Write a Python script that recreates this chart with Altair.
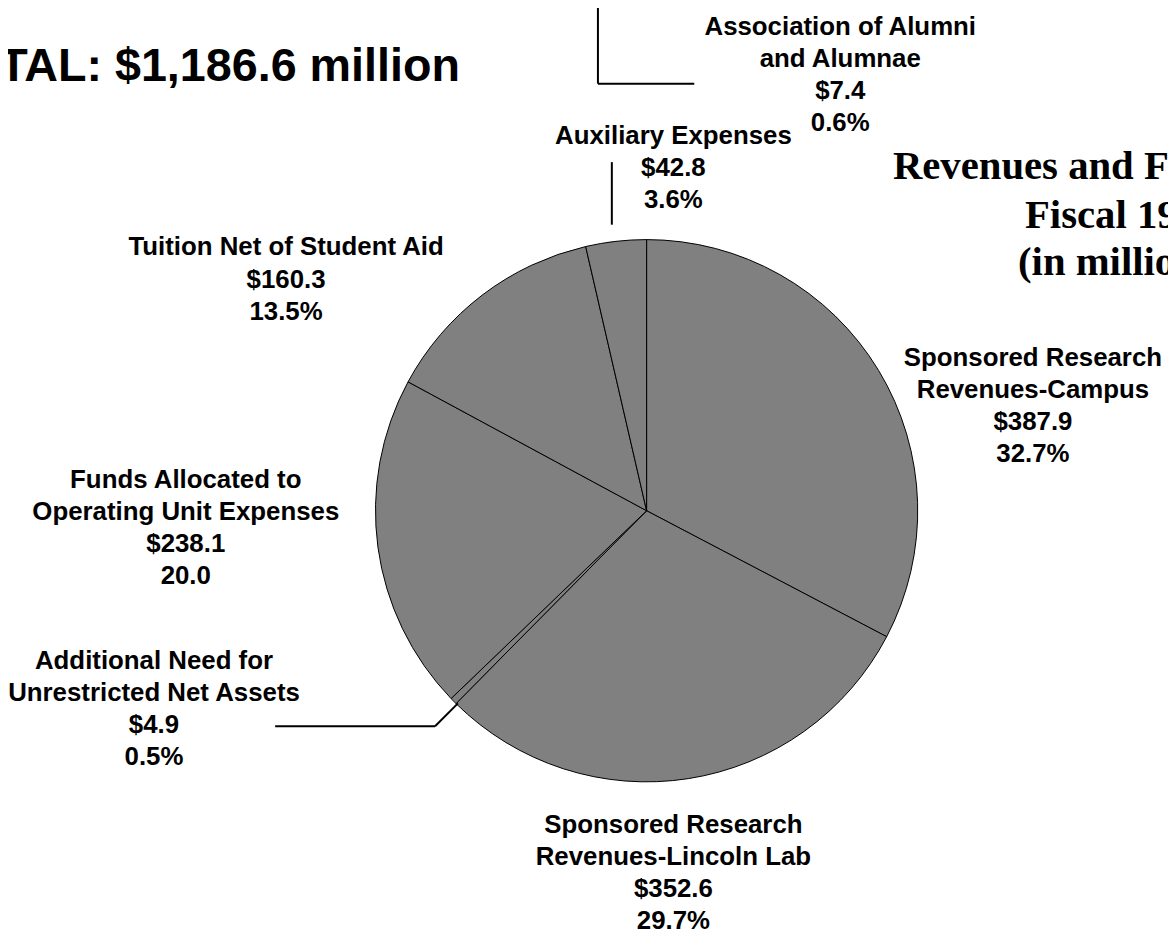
import altair as alt
import pandas as pd

# ---- data ----
categories = [
    "Sponsored Research\nRevenues-Campus",
    "Sponsored Research\nRevenues-Lincoln Lab",
    "Additional Need for\nUnrestricted Net Assets",
    "Funds Allocated to\nOperating Unit Expenses",
    "Tuition Net of Student Aid",
    "Auxiliary Expenses",
]
values = [387.9, 352.6, 4.9, 238.1, 160.3, 42.8]
value_labels = ["$387.9", "$352.6", "$4.9", "$238.1", "$160.3", "$42.8"]
pct_labels = ["32.7%", "29.7%", "0.5%", "20.0", "13.5%", "3.6%"]

extra_category = "Association of Alumni\nand  Alumnae"
extra_value_label = "$7.4"
extra_pct_label = "0.6%"

total_title = "TOTAL: $1,186.6 million"
main_title = ["Revenues and Fund Allocations", "Fiscal 1998", "(in millions)"]

# ---- layout (chart px = screen px - 8) ----
OFF = 8
W, H = 1168, 926
CX, CY, R = 651 - OFF, 511 - OFF, 273

label_pos = {  # centre x, first baseline y (screen coords)
    categories[0]: (1040, 365),
    categories[1]: (678, 835),
    categories[2]: (155, 670),
    categories[3]: (187, 488),
    categories[4]: (288, 254),
    categories[5]: (678, 142),
    extra_category: (846, 32),
}

pie_df = pd.DataFrame({
    "category": categories,
    "value": values,
    "order": list(range(len(values))),
})

pie = alt.Chart(pie_df).mark_arc(
    radius=R, fill="#808080", stroke="#000000", strokeWidth=1
).encode(
    theta=alt.Theta("value:Q", stack=True),
    order=alt.Order("order:Q"),
    x=alt.value(CX),
    y=alt.value(CY),
)

all_cats = categories + [extra_category]
all_vals = value_labels + [extra_value_label]
all_pcts = pct_labels + [extra_pct_label]
lab_df = pd.DataFrame({
    "label": [f"{c}\n{v}\n{p}" for c, v, p in zip(all_cats, all_vals, all_pcts)],
    "px": [label_pos[c][0] - OFF for c in all_cats],
    "py": [label_pos[c][1] - OFF for c in all_cats],
})

labels = alt.Chart(lab_df).mark_text(
    font="Liberation Sans", fontSize=26, fontWeight="bold", color="#000000",
    align="center", baseline="alphabetic", lineBreak="\n", lineHeight=32.3,
).encode(
    x=alt.X("px:Q", scale=None),
    y=alt.Y("py:Q", scale=None),
    text="label:N",
)

segments = [
    (602, -10, 602, 81),
    (602, 81, 699, 81),
    (616, 160, 616, 223),
    (277, 728, 438, 728),
    (438, 728, 461, 705),
]
seg_df = pd.DataFrame({
    "x1": [s[0] - OFF for s in segments],
    "y1": [s[1] - OFF for s in segments],
    "x2": [s[2] - OFF for s in segments],
    "y2": [s[3] - OFF for s in segments],
})
leaders = alt.Chart(seg_df).mark_rule(color="#000000", strokeWidth=2).encode(
    x=alt.X("x1:Q", scale=None),
    y=alt.Y("y1:Q", scale=None),
    x2="x2:Q",
    y2="y2:Q",
)

tot_df = pd.DataFrame({"t": [total_title]})
total = alt.Chart(tot_df).mark_text(
    font="Liberation Sans", fontSize=47, fontWeight="bold", color="#000000",
    align="right", baseline="alphabetic",
).encode(x=alt.value(463 - OFF), y=alt.value(78 - OFF), text="t:N")

mt_df = pd.DataFrame({
    "t": main_title,
    "px": [899 - OFF, 1032 - OFF, 1025 - OFF],
    "py": [177 - OFF, 226 - OFF, 274 - OFF],
})
maintitle = alt.Chart(mt_df).mark_text(
    font="Liberation Serif", fontSize=41, fontWeight="bold", color="#000000",
    align="left", baseline="alphabetic",
).encode(
    x=alt.X("px:Q", scale=None),
    y=alt.Y("py:Q", scale=None),
    text="t:N",
)

chart = alt.layer(pie, leaders, labels, total, maintitle).properties(
    width=W, height=H, padding=0, background="#ffffff",
    autosize=alt.AutoSizeParams(type="none"),
).configure_view(stroke=None)

chart.save("out.html", embed_options={"renderer": "svg", "actions": False})
